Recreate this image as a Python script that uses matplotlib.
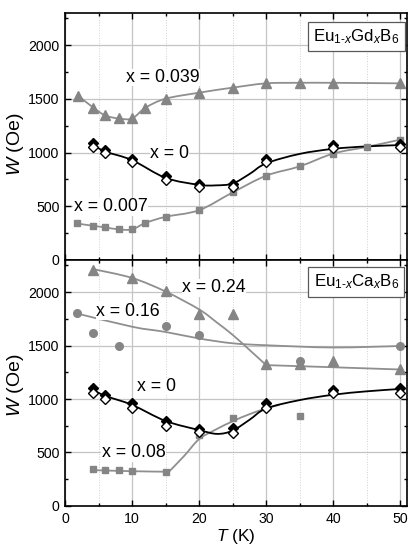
import matplotlib
matplotlib.use("Agg")
import matplotlib.pyplot as plt
import numpy as np
from matplotlib.path import Path
from matplotlib.patches import PathPatch
from matplotlib.ticker import MultipleLocator

plt.rcParams['font.family'] = ['Liberation Sans', 'DejaVu Sans']
plt.rcParams['mathtext.fontset'] = 'custom'
plt.rcParams['mathtext.rm'] = 'Liberation Sans'
plt.rcParams['mathtext.it'] = 'Liberation Sans:italic'

# ---------------- Data: top panel (Eu1-xGdxB6) ----------------
gd039_T = [2, 4.2, 6, 8, 10, 12, 15, 20, 25, 30, 35, 40, 50]
gd039_W = [1528, 1420, 1346, 1318, 1318, 1418, 1502, 1558, 1605, 1645, 1650, 1650, 1645]

gd007_T = [1.8, 4.2, 6, 8, 10, 12, 15, 20, 25, 30, 35, 40, 45, 50]
gd007_W = [340, 318, 304, 285, 285, 345, 402, 464, 629, 785, 872, 991, 1053, 1121]

gd0_T = [4.2, 6, 10, 15, 20, 25, 30, 40, 50]
gd0_filled = [1085, 1025, 942, 780, 708, 708, 942, 1072, 1082]
gd0_open = [1055, 998, 912, 745, 678, 680, 912, 1045, 1055]

gd0_fit_T = [4.2, 6, 10, 15, 20, 22.5, 25, 27.5, 30, 35, 40, 45, 50]
gd0_fit_W = [1072, 1010, 930, 765, 700, 695, 712, 800, 900, 988, 1035, 1058, 1070]

# ---------------- Data: bottom panel (Eu1-xCaxB6) ----------------
ca24_T = [4.2, 10, 15, 20, 25, 30, 35, 40, 50]
ca24_W = [2210, 2127, 2008, 1791, 1791, 1326, 1330, 1357, 1279]
ca24_fit1_T = [4.2, 10, 15, 20, 22.7, 25, 27.5, 30]
ca24_fit1_W = [2215, 2132, 2005, 1838, 1713, 1600, 1460, 1317]
ca24_fit2_T = [30, 40, 50]
ca24_fit2_W = [1317, 1297, 1276]

ca16_T = [1.8, 4.2, 8, 15, 20, 35, 50]
ca16_W = [1807, 1620, 1494, 1686, 1598, 1360, 1496]
ca16_fit_T = [1.8, 10, 15, 20, 25, 30, 40, 50]
ca16_fit_W = [1800, 1676, 1627, 1566, 1521, 1503, 1482, 1496]

ca08_T = [4.2, 6, 8, 10, 15, 20, 25, 30, 35]
ca08_W = [342, 339, 333, 323, 317, 665, 820, 922, 845]
ca08_fit1_T = [4.2, 10, 15.5]
ca08_fit1_W = [335, 325, 320]
ca08_fit2_T = [15.5, 17.8, 20, 22.5, 25, 27.5, 30, 32]
ca08_fit2_W = [320, 470, 625, 715, 792, 858, 912, 945]

ca0_T = [4.2, 6, 10, 15, 20, 25, 30, 40, 50]
ca0_filled = [1105, 1037, 960, 795, 720, 727, 960, 1085, 1105]
ca0_open = [1060, 1002, 918, 748, 695, 685, 918, 1052, 1060]
ca0_fit_T = [4.2, 6, 10, 15, 20, 22.7, 25, 27.5, 30, 35, 40, 45, 50]
ca0_fit_W = [1085, 1030, 945, 795, 710, 674, 705, 805, 912, 990, 1040, 1072, 1094]

GRAY = '#858585'
LGRAY = '#8f8f8f'


def smooth(ax, xs, ys, **kw):
    P = np.column_stack([list(xs), list(ys)]).astype(float)
    n = len(P)
    verts = [P[0]]
    codes = [Path.MOVETO]
    for i in range(n - 1):
        p0 = P[i - 1] if i > 0 else P[i]
        p1 = P[i]
        p2 = P[i + 1]
        p3 = P[i + 2] if i + 2 < n else P[i + 1]
        c1 = p1 + (p2 - p0) / 6.0
        c2 = p2 - (p3 - p1) / 6.0
        verts += [c1, c2, p2]
        codes += [Path.CURVE4] * 3
    ax.add_patch(PathPatch(Path(verts, codes), fill=False, **kw))


def style_axes(ax, show_xlabels, ylab_y):
    ax.set_xlim(0, 51)
    ax.set_ylim(0, 2300)
    ax.xaxis.set_major_locator(MultipleLocator(10))
    ax.xaxis.set_minor_locator(MultipleLocator(5))
    ax.yaxis.set_major_locator(MultipleLocator(500))
    ax.yaxis.set_minor_locator(MultipleLocator(250))
    ax.tick_params(which='both', direction='in', top=True, right=True,
                   labelsize=10.2, width=1.0, pad=4)
    ax.tick_params(which='major', length=4)
    ax.tick_params(which='minor', length=2.5)
    if not show_xlabels:
        ax.tick_params(axis='x', labelbottom=False)
    ax.grid(True, which='major', color='#c4c4c4', linewidth=0.9)
    ax.grid(True, which='minor', axis='x', color='#d0d0d0', linewidth=0.7,
            linestyle=':')
    ax.set_axisbelow(True)
    for s in ax.spines.values():
        s.set_linewidth(1.2)
    ax.set_ylabel(r'$W$ (Oe)', fontsize=14)
    ax.yaxis.set_label_coords(-0.115, ylab_y)


fig = plt.figure(figsize=(4.15, 5.47), dpi=100)
ax1 = fig.add_axes([0.1566, 0.5247, 0.8241, 0.4515])
ax2 = fig.add_axes([0.1566, 0.075, 0.8241, 0.4497])

LW = 1.3
FS = 12.8
MS_D = 4.6
bbox = dict(facecolor='white', edgecolor='none', pad=0.3)
boxkw = dict(facecolor='white', edgecolor='#5a5a5a', linewidth=0.9,
             boxstyle='square,pad=0.32')

# ---- top panel ----
style_axes(ax1, False, 0.47)
smooth(ax1, gd039_T, gd039_W, edgecolor=LGRAY, linewidth=LW, zorder=3)
smooth(ax1, gd007_T, gd007_W, edgecolor=LGRAY, linewidth=LW, zorder=3)
smooth(ax1, gd0_fit_T, gd0_fit_W, edgecolor='black', linewidth=LW, zorder=4)
ax1.plot(gd039_T, gd039_W, '^', color=GRAY, ms=6.5, ls='none', zorder=5)
ax1.plot(gd007_T, gd007_W, 's', color=GRAY, ms=5, ls='none', zorder=5)
ax1.plot(gd0_T, gd0_filled, 'D', color='black', ms=MS_D, ls='none', zorder=6)
ax1.plot(gd0_T, gd0_open, 'D', mfc='white', mec='black', mew=1.0, ms=MS_D,
         ls='none', zorder=7)
ax1.text(14.6, 1700, 'x = 0.039', fontsize=FS, ha='center', va='center',
         bbox=bbox, zorder=8)
ax1.text(15.6, 995, 'x = 0', fontsize=FS, ha='center', va='center',
         bbox=bbox, zorder=8)
ax1.text(6.8, 495, 'x = 0.007', fontsize=FS, ha='center', va='center',
         bbox=bbox, zorder=8)
ax1.text(0.852, 0.905, r'Eu$_{1\text{-}x}$Gd$_x$B$_6$', fontsize=12.2,
         transform=ax1.transAxes, ha='center', va='center', zorder=9,
         bbox=boxkw)

# ---- bottom panel ----
style_axes(ax2, True, 0.49)
smooth(ax2, ca24_fit1_T, ca24_fit1_W, edgecolor=LGRAY, linewidth=LW, zorder=3)
smooth(ax2, ca24_fit2_T, ca24_fit2_W, edgecolor=LGRAY, linewidth=LW, zorder=3)
smooth(ax2, ca16_fit_T, ca16_fit_W, edgecolor=LGRAY, linewidth=LW, zorder=3)
smooth(ax2, ca08_fit1_T, ca08_fit1_W, edgecolor=LGRAY, linewidth=LW, zorder=3)
smooth(ax2, ca08_fit2_T, ca08_fit2_W, edgecolor=LGRAY, linewidth=LW, zorder=3)
smooth(ax2, ca0_fit_T, ca0_fit_W, edgecolor='black', linewidth=LW, zorder=4)
ax2.plot(ca24_T, ca24_W, '^', color=GRAY, ms=6.5, ls='none', zorder=5)
ax2.plot(ca16_T, ca16_W, 'o', color=GRAY, ms=5.5, ls='none', zorder=5)
ax2.plot(ca08_T, ca08_W, 's', color=GRAY, ms=5, ls='none', zorder=5)
ax2.plot(ca0_T, ca0_filled, 'D', color='black', ms=MS_D, ls='none', zorder=6)
ax2.plot(ca0_T, ca0_open, 'D', mfc='white', mec='black', mew=1.0, ms=MS_D,
         ls='none', zorder=7)
ax2.text(22.2, 2040, 'x = 0.24', fontsize=FS, ha='center', va='center',
         bbox=bbox, zorder=8)
ax2.text(9.4, 1822, 'x = 0.16', fontsize=FS, ha='center', va='center',
         bbox=bbox, zorder=8)
ax2.text(13.7, 1118, 'x = 0', fontsize=FS, ha='center', va='center',
         bbox=bbox, zorder=8)
ax2.text(10.2, 497, 'x = 0.08', fontsize=FS, ha='center', va='center',
         bbox=bbox, zorder=8)
ax2.text(0.852, 0.91, r'Eu$_{1\text{-}x}$Ca$_x$B$_6$', fontsize=12.2,
         transform=ax2.transAxes, ha='center', va='center', zorder=9,
         bbox=boxkw)
ax2.set_xlabel(r'$T$ (K)', fontsize=12.5, labelpad=1)

fig.savefig('out.png', dpi=100)
